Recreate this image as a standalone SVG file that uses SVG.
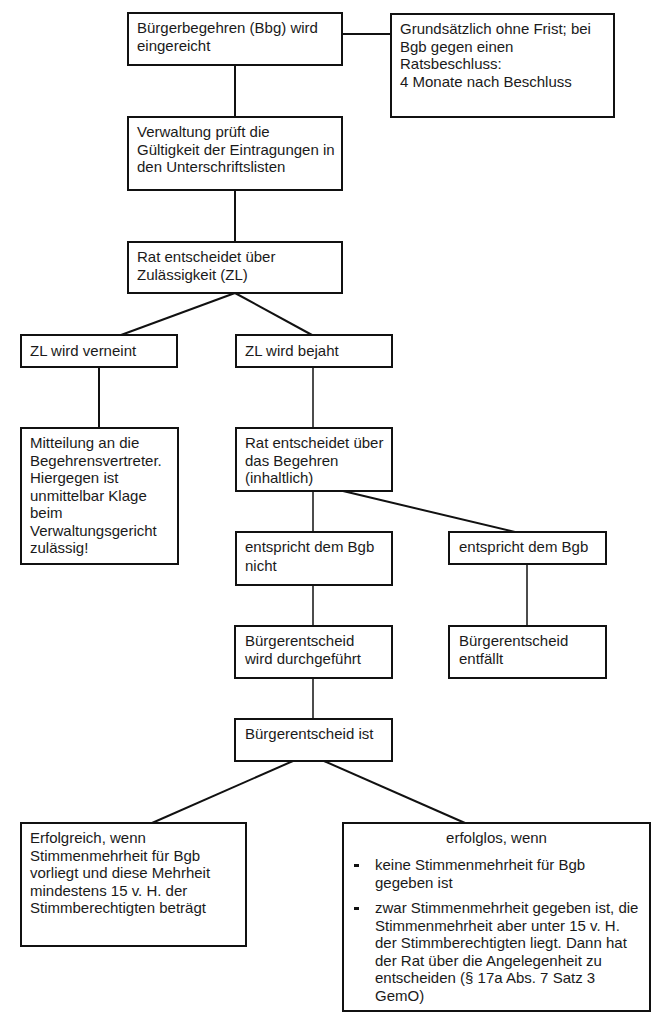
<svg xmlns="http://www.w3.org/2000/svg" width="662" height="1024" viewBox="0 0 662 1024">
<style>
.box{fill:#fff;stroke:#111;stroke-width:2}
.t{font-family:"Liberation Sans",Arial,sans-serif;font-size:15px;fill:#1a1a1a}
.c{stroke:#111;stroke-width:2;fill:none}
.c2{stroke:#111;stroke-width:1.5;fill:none}
</style>
<rect width="662" height="1024" fill="#fff"/>
<g id="connectors">
<line class="c" x1="342" y1="34" x2="391" y2="34"/>
<line class="c" x1="235" y1="65" x2="235" y2="117"/>
<line class="c" x1="235" y1="190" x2="235" y2="242"/>
<line class="c" x1="235" y1="293" x2="121" y2="335"/>
<line class="c" x1="235" y1="293" x2="312" y2="335"/>
<line class="c" x1="99" y1="367" x2="99" y2="428"/>
<line class="c2" x1="313" y1="367" x2="313" y2="428"/>
<line class="c2" x1="313" y1="491" x2="313" y2="532"/>
<line class="c" x1="343" y1="491" x2="515" y2="532"/>
<line class="c2" x1="313" y1="585" x2="313" y2="626"/>
<line class="c2" x1="527" y1="564" x2="527" y2="626"/>
<line class="c2" x1="313" y1="678" x2="313" y2="719"/>
<line class="c" x1="293" y1="761" x2="152" y2="823"/>
<line class="c" x1="324" y1="761" x2="465" y2="823"/>
</g>
<g id="n1"><rect class="box" x="128" y="13" width="214" height="52"/>
<text class="t" x="137" y="33">Bürgerbegehren (Bbg) wird</text>
<text class="t" x="137" y="50.5">eingereicht</text></g>
<g id="n2"><rect class="box" x="391" y="14" width="223" height="103"/>
<text class="t" x="400" y="34">Grundsätzlich ohne Frist; bei</text>
<text class="t" x="400" y="51.5">Bgb gegen einen</text>
<text class="t" x="400" y="69">Ratsbeschluss:</text>
<text class="t" x="400" y="86.5">4 Monate nach Beschluss</text></g>
<g id="n3"><rect class="box" x="128" y="117" width="214" height="73"/>
<text class="t" x="137" y="137">Verwaltung prüft die</text>
<text class="t" x="137" y="154.5">Gültigkeit der Eintragungen in</text>
<text class="t" x="137" y="172">den Unterschriftslisten</text></g>
<g id="n4"><rect class="box" x="128" y="242" width="214" height="51"/>
<text class="t" x="137" y="262">Rat entscheidet über</text>
<text class="t" x="137" y="279.5">Zulässigkeit (ZL)</text></g>
<g id="n5"><rect class="box" x="21" y="335" width="156" height="32"/>
<text class="t" x="30" y="356">ZL wird verneint</text></g>
<g id="n6"><rect class="box" x="236" y="335" width="156" height="32"/>
<text class="t" x="245" y="356">ZL wird bejaht</text></g>
<g id="n7"><rect class="box" x="21" y="428" width="157" height="136"/>
<text class="t" x="30" y="448">Mitteilung an die</text>
<text class="t" x="30" y="465.5">Begehrensvertreter.</text>
<text class="t" x="30" y="483">Hiergegen ist</text>
<text class="t" x="30" y="500.5">unmittelbar Klage</text>
<text class="t" x="30" y="518">beim</text>
<text class="t" x="30" y="535.5">Verwaltungsgericht</text>
<text class="t" x="30" y="553">zulässig!</text></g>
<g id="n8"><rect class="box" x="236" y="428" width="156" height="63"/>
<text class="t" x="245" y="448">Rat entscheidet über</text>
<text class="t" x="245" y="465.5">das Begehren</text>
<text class="t" x="245" y="483">(inhaltlich)</text></g>
<g id="n9"><rect class="box" x="236" y="532" width="156" height="53"/>
<text class="t" x="245" y="552">entspricht dem Bgb</text>
<text class="t" x="245" y="571">nicht</text></g>
<g id="n10"><rect class="box" x="449" y="532" width="157" height="32"/>
<text class="t" x="459" y="552">entspricht dem Bgb</text></g>
<g id="n11"><rect class="box" x="235" y="626" width="157" height="52"/>
<text class="t" x="245" y="646">Bürgerentscheid</text>
<text class="t" x="245" y="663.5">wird durchgeführt</text></g>
<g id="n12"><rect class="box" x="449" y="626" width="157" height="52"/>
<text class="t" x="459" y="646">Bürgerentscheid</text>
<text class="t" x="459" y="663.5">entfällt</text></g>
<g id="n13"><rect class="box" x="235" y="719" width="157" height="42"/>
<text class="t" x="245" y="739">Bürgerentscheid ist</text></g>
<g id="n14"><rect class="box" x="21" y="823" width="225" height="123"/>
<text class="t" x="30" y="843">Erfolgreich, wenn</text>
<text class="t" x="30" y="860.5">Stimmenmehrheit für Bgb</text>
<text class="t" x="30" y="878">vorliegt und diese Mehrheit</text>
<text class="t" x="30" y="895.5">mindestens 15 v. H. der</text>
<text class="t" x="30" y="913">Stimmberechtigten beträgt</text></g>
<g id="n15"><rect class="box" x="343" y="823" width="307" height="188"/>
<text class="t" x="496.5" y="843" text-anchor="middle">erfolglos, wenn</text>
<rect x="354" y="864" width="5" height="3" fill="#111"/>
<text class="t" x="375" y="870">keine Stimmenmehrheit für Bgb</text>
<text class="t" x="375" y="887.5">gegeben ist</text>
<rect x="354" y="907" width="5" height="3" fill="#111"/>
<text class="t" x="375" y="913">zwar Stimmenmehrheit gegeben ist, die</text>
<text class="t" x="375" y="930.5">Stimmenmehrheit aber unter 15 v. H.</text>
<text class="t" x="375" y="948">der Stimmberechtigten liegt. Dann hat</text>
<text class="t" x="375" y="965.5">der Rat über die Angelegenheit zu</text>
<text class="t" x="375" y="983">entscheiden (§ 17a Abs. 7 Satz 3</text>
<text class="t" x="375" y="1000.5">GemO)</text></g>
</svg>
